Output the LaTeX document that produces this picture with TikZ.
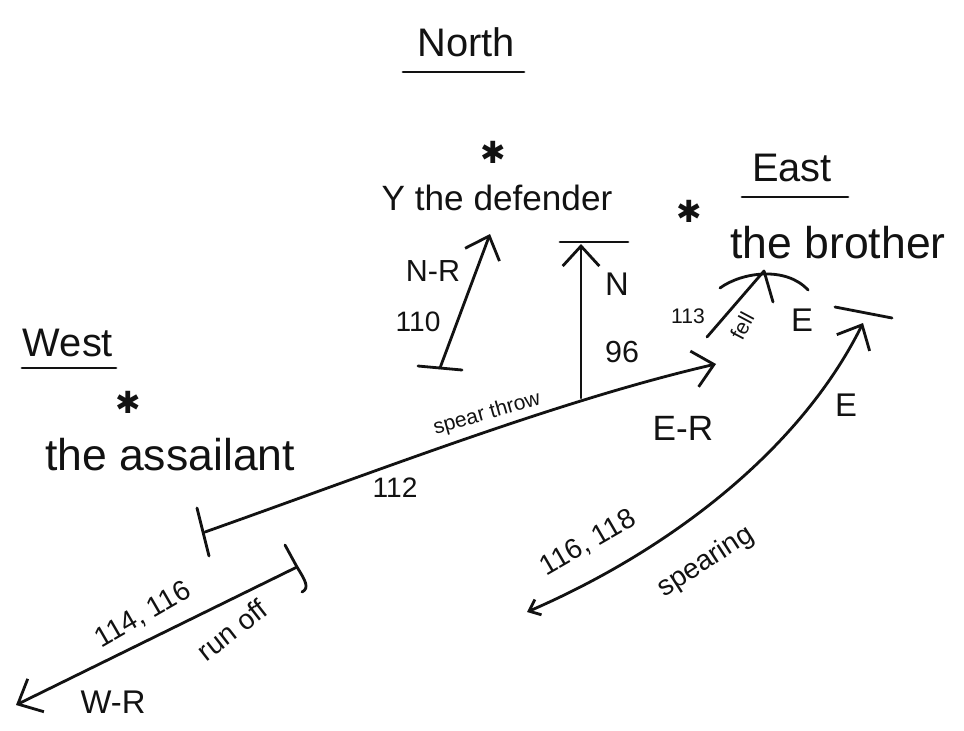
\documentclass[tikz,border=0pt]{standalone}
\usepackage{fontspec}
\setmainfont{Liberation Sans}
\newfontfamily\starfont{DejaVu Sans}
\usetikzlibrary{arrows.meta}
\definecolor{inkblack}{RGB}{18,18,18}

\begin{document}
\begin{tikzpicture}[x=0.03cm,y=-0.03cm,
  ink/.style={draw=inkblack,line width=2.4pt,line cap=round},
  tip/.style={-{Straight Barb[length=6mm,width=11mm]}},
  compass/.style={text=inkblack,font=\fontsize{34}{36}\selectfont},
  who/.style={text=inkblack,font=\fontsize{38}{40}\selectfont},
  star/.style={text=inkblack,font=\starfont\fontsize{26}{26}\selectfont,inner sep=0pt},
  tag/.style={text=inkblack,font=\fontsize{24}{26}\selectfont,inner sep=0pt},
  note/.style={text=inkblack,font=\fontsize{18}{20}\selectfont,inner sep=0pt}]
  \useasboundingbox (0,0) rectangle (964,730);
  % compass headings
  \node[compass] (north) at (466,42) {North};
  \node[compass] (east) at (792,168) {East};
  \node[compass] (west) at (68,343) {West};
  \draw[ink] (403,72) -- (524,72);
  \draw[ink] (742,197) -- (848,197);
  \draw[ink] (22,368) -- (116,368);
  % the three men
  \node[star] (starY) at (493,152) {✱};
  \node[who,font=\fontsize{30}{32}\selectfont] (defender) at (497,198) {Y the defender};
  \node[star] (starB) at (689,211) {✱};
  \node[who] (brother) at (838,243) {the brother};
  \node[star] (starA) at (128,402) {✱};
  \node[who] (assailant) at (170,455) {the assailant};
  % N-R
  \coordinate (nrTail) at (440,368);
  \coordinate (nrTip) at (490,234);
  \draw[ink] (418,366) -- (462,370);
  \draw[ink,tip] (nrTail) -- (nrTip);
  \node[tag,font=\fontsize{26}{28}\selectfont] (nrTag) at (433,271) {N-R};
  \node[tag] (nrNum) at (418,322) {110};
  % N
  \coordinate (nTail) at (581,398);
  \coordinate (nTip) at (581,244);
  \draw[ink] (560,242) -- (628,242);
  \draw[ink,tip] (nTail) -- (nTip);
  \node[tag,font=\fontsize{28}{30}\selectfont] (nTag) at (617,284) {N};
  \node[tag,font=\fontsize{26}{28}\selectfont] (nNum) at (622,352) {96};
  % spear throw
  \coordinate (throwTail) at (205,532);
  \coordinate (throwTip) at (716,364);
  \draw[ink] (197,508) -- (209,556);
  \draw[ink,tip] (throwTail) .. controls (380,470) and (560,400) .. (throwTip);
  \node[note,rotate=16] (throwTag) at (487,414) {spear throw};
  \node[tag] (throwNum) at (395,488) {112};
  \node[tag,font=\fontsize{30}{32}\selectfont] (erTag) at (683,428) {E-R};
  % fell
  \coordinate (fellTail) at (707,337);
  \coordinate (fellTip) at (764,271);
  \draw[ink] (fellTail) -- (fellTip);
  \draw[ink] (720,288) .. controls (742,272) and (786,266) .. (808,290);
  \draw[ink] (fellTip) -- (773,302);
  \node[note] (fellNum) at (688,316) {113};
  \node[note,rotate=62] (fellTag) at (742,326) {fell};
  \node[tag,font=\fontsize{28}{30}\selectfont] (eTagA) at (802,320) {E};
  % spearing
  \coordinate (spearTail) at (527,612);
  \coordinate (spearTip) at (863,323);
  \draw[ink] (835,307) -- (892,318);
  \draw[ink,{Straight Barb[length=3mm,width=5mm]}-{Straight Barb[length=6mm,width=11mm]}]
    (spearTail) .. controls (670,550) and (800,450) .. (spearTip);
  \node[tag,font=\fontsize{28}{30}\selectfont] (eTagB) at (846,405) {E};
  \node[tag,rotate=30] (spearNum) at (588,543) {116, 118};
  \node[tag,rotate=33] (spearTag) at (706,562) {spearing};
  % run off
  \coordinate (runTail) at (297,567);
  \coordinate (runTip) at (16,705);
  \draw[ink] (285,545) -- (runTail) .. controls (305,580) and (310,588) .. (302,592);
  \draw[ink,tip] (runTail) -- (runTip);
  \node[tag,rotate=30] (runNum) at (143,615) {114, 116};
  \node[tag,rotate=38] (runTag) at (232,630) {run off};
  \node[tag,font=\fontsize{28}{30}\selectfont] (wrTag) at (113,702) {W-R};
\end{tikzpicture}
\end{document}
